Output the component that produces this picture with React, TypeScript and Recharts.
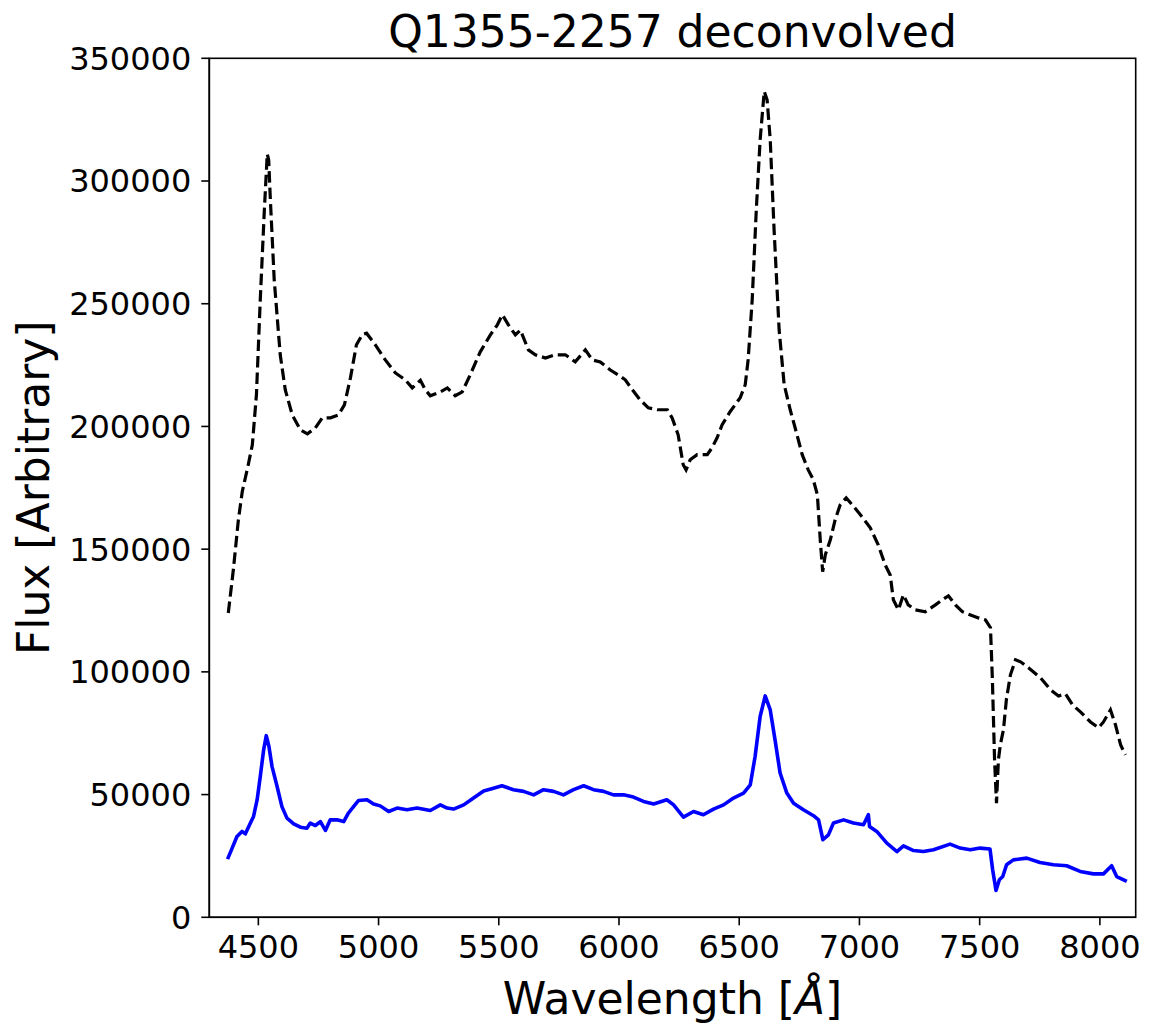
import React from "react";
import { LineChart, Line, XAxis, YAxis } from "recharts";

// Black dashed series (wavelength in Å, flux)
const blackWave = [
  4375, 4396, 4417, 4433, 4458, 4475, 4492, 4508, 4525, 4537, 4543, 4550, 4566, 4591, 4612, 4641, 4675, 4704,
  4737, 4766, 4800, 4833, 4858, 4883, 4908, 4933, 4950, 4986, 5028, 5070, 5111, 5140, 5174, 5194, 5215, 5257,
  5286, 5319, 5348, 5381, 5423, 5465, 5494, 5515, 5540, 5569, 5590, 5623, 5652, 5694, 5735, 5777, 5818, 5860,
  5889, 5922, 5964, 5997, 6026, 6055, 6088, 6122, 6159, 6201, 6221, 6246, 6267, 6279, 6296, 6325, 6367, 6387,
  6408, 6429, 6462, 6504, 6525, 6537, 6554, 6571, 6587, 6604, 6616, 6629, 6645, 6666, 6687, 6712, 6737, 6762,
  6787, 6808, 6825, 6837, 6847, 6858, 6879, 6899, 6920, 6945, 6970, 7004, 7045, 7078, 7107, 7128, 7141, 7162,
  7183, 7203, 7232, 7274, 7316, 7345, 7370, 7399, 7428, 7462, 7495, 7524, 7545, 7553, 7562, 7570, 7578, 7586,
  7599, 7611, 7628, 7649, 7670, 7703, 7753, 7795, 7828, 7857, 7886, 7919, 7961, 7994, 8015, 8044, 8065, 8086,
  8106,
];
const blackFlux = [
  124000, 141600, 162000, 173400, 184400, 192500, 212900, 251600, 288300, 311000, 308600, 292300, 259700, 229200,
  214900, 204700, 198600, 197000, 199400, 203500, 203500, 204700, 208800, 219800, 233300, 237500, 238000, 233300,
  227100, 221800, 219000, 215700, 218800, 215000, 212500, 214100, 215700, 212500, 214100, 221000, 230400, 237300,
  241400, 245500, 241400, 237300, 239300, 231200, 229200, 227900, 229200, 229200, 226300, 231200, 227100, 226300,
  223000, 221000, 219000, 215000, 210800, 207600, 206800, 206800, 203500, 196600, 184400, 182300, 186400, 188500,
  188500, 191300, 195400, 200700, 206000, 211700, 217000, 227100, 251600, 288300, 316800, 336500, 333100, 316800,
  280100, 239300, 217000, 206800, 197800, 188500, 182300, 178300, 172200, 153800, 140800, 147700, 153800, 162000,
  168100, 170900, 168100, 164000, 158700, 151800, 143600, 139500, 129400, 125300, 131400, 127300, 125300, 124500,
  127300, 129400, 131000, 127300, 124500, 123200, 122000, 121200, 118000, 96800, 64200, 46500, 64200, 70300,
  76400, 88600, 98800, 104900, 104100, 101700, 97600, 92700, 90200, 91000, 86600, 83700, 79600, 77200, 79600,
  84500, 78400, 70300, 66200,
];

// Blue solid series
const blueWave = [
  4372, 4391, 4411, 4432, 4446, 4467, 4480, 4495, 4508, 4522, 4533, 4544, 4557, 4578, 4598, 4619, 4647, 4675,
  4702, 4716, 4737, 4758, 4779, 4799, 4827, 4855, 4875, 4896, 4917, 4952, 4979, 5007, 5042, 5077, 5118, 5160,
  5215, 5257, 5285, 5312, 5354, 5395, 5437, 5478, 5513, 5561, 5603, 5645, 5686, 5728, 5769, 5811, 5853, 5894,
  5936, 5977, 6019, 6060, 6102, 6144, 6199, 6227, 6268, 6310, 6351, 6393, 6435, 6476, 6518, 6546, 6566, 6587,
  6608, 6629, 6649, 6670, 6698, 6726, 6767, 6809, 6830, 6848, 6871, 6892, 6934, 6975, 7017, 7037, 7042, 7072,
  7114, 7156, 7183, 7225, 7266, 7308, 7377, 7419, 7461, 7502, 7543, 7554, 7568, 7582, 7596, 7612, 7640, 7696,
  7751, 7807, 7862, 7918, 7973, 8015, 8049, 8070, 8112,
];
const blueFlux = [
  23700, 28200, 32900, 35000, 34000, 38400, 41100, 47900, 57400, 68200, 74000, 69600, 61400, 53300, 45100, 40400,
  38100, 36700, 36300, 38400, 37400, 39000, 35400, 39700, 39700, 39000, 42500, 45100, 47600, 47900, 46200, 45400,
  43100, 44500, 43800, 44500, 43500, 45800, 44500, 44100, 45800, 48600, 51500, 52600, 53600, 52000, 51300, 49900,
  52000, 51300, 49900, 52000, 53600, 52000, 51300, 49900, 49900, 49000, 47200, 46200, 47900, 45800, 40800, 43100,
  41800, 44100, 45800, 48600, 50600, 54000, 65500, 81800, 90200, 84500, 72300, 58800, 50600, 46500, 43800, 41400,
  39700, 31600, 33600, 38400, 39700, 38400, 37700, 41800, 37000, 35000, 30200, 26800, 29100, 27200, 26800, 27500,
  29800, 28200, 27500, 28200, 27800, 19400, 10900, 15300, 16600, 21400, 23400, 24100, 22300, 21400, 21000, 18700,
  17700, 17700, 21000, 16600, 14600,
];

const xTicks = [4500, 5000, 5500, 6000, 6500, 7000, 7500, 8000];
const yTicks = [0, 50000, 100000, 150000, 200000, 250000, 300000, 350000];

const titleText = "Q1355-2257 deconvolved";
const yLabelText = "Flux [Arbitrary]";

const blackData = blackWave.map((w, i) => ({ w, f: blackFlux[i] }));
const blueData = blueWave.map((w, i) => ({ w, f: blueFlux[i] }));

const FONT = "'DejaVu Sans', sans-serif";
const tickStyle = { fontSize: 32, fill: "#000", fontFamily: FONT };
const axisLineStyle = { stroke: "#000", strokeWidth: 1.6 };

const PLOT = { left: 209.3, top: 58.3, right: 1135.7, bottom: 917.3 };

export default function App() {
  return (
    <div style={{ position: "absolute", left: 0, top: 0, width: 1149, height: 1029, background: "#fff" }}>
      <LineChart
        width={1149}
        height={1029}
        margin={{ top: PLOT.top, right: 1149 - PLOT.right, bottom: 0, left: 0 }}
      >
        <XAxis
          dataKey="w"
          type="number"
          domain={[4296, 8149]}
          ticks={xTicks}
          allowDataOverflow
          height={1029 - PLOT.bottom}
          tickSize={8}
          tickMargin={10}
          tick={tickStyle}
          axisLine={axisLineStyle}
          tickLine={axisLineStyle}
          interval={0}
        />
        <YAxis
          type="number"
          domain={[0, 350000]}
          ticks={yTicks}
          allowDataOverflow
          width={PLOT.left}
          tickSize={8}
          tickMargin={10}
          tick={tickStyle}
          axisLine={axisLineStyle}
          tickLine={axisLineStyle}
          interval={0}
        />
        <Line
          data={blackData}
          dataKey="f"
          type="linear"
          stroke="#000000"
          strokeWidth={3.2}
          strokeDasharray="11.5 5"
          dot={false}
          activeDot={false}
          isAnimationActive={false}
        />
        <Line
          data={blueData}
          dataKey="f"
          type="linear"
          stroke="#0000ff"
          strokeWidth={3.6}
          strokeLinejoin="round"
          dot={false}
          activeDot={false}
          isAnimationActive={false}
        />
      </LineChart>
      <svg
        width={1149}
        height={1029}
        style={{ position: "absolute", left: 0, top: 0, pointerEvents: "none" }}
      >
        <rect
          x={PLOT.left}
          y={PLOT.top}
          width={PLOT.right - PLOT.left}
          height={PLOT.bottom - PLOT.top}
          fill="none"
          stroke="#000"
          strokeWidth={1.6}
        />
        <text x={672.5} y={47} textAnchor="middle" fontSize={44} fontFamily={FONT} fill="#000">
          {titleText}
        </text>
        <text x={672.5} y={1014} textAnchor="middle" fontSize={44} fontFamily={FONT} fill="#000">
          Wavelength [<tspan fontStyle="italic">Å</tspan>]
        </text>
        <text
          x={49}
          y={487.8}
          textAnchor="middle"
          fontSize={44}
          fontFamily={FONT}
          fill="#000"
          transform="rotate(-90 49 487.8)"
        >
          {yLabelText}
        </text>
      </svg>
    </div>
  );
}
